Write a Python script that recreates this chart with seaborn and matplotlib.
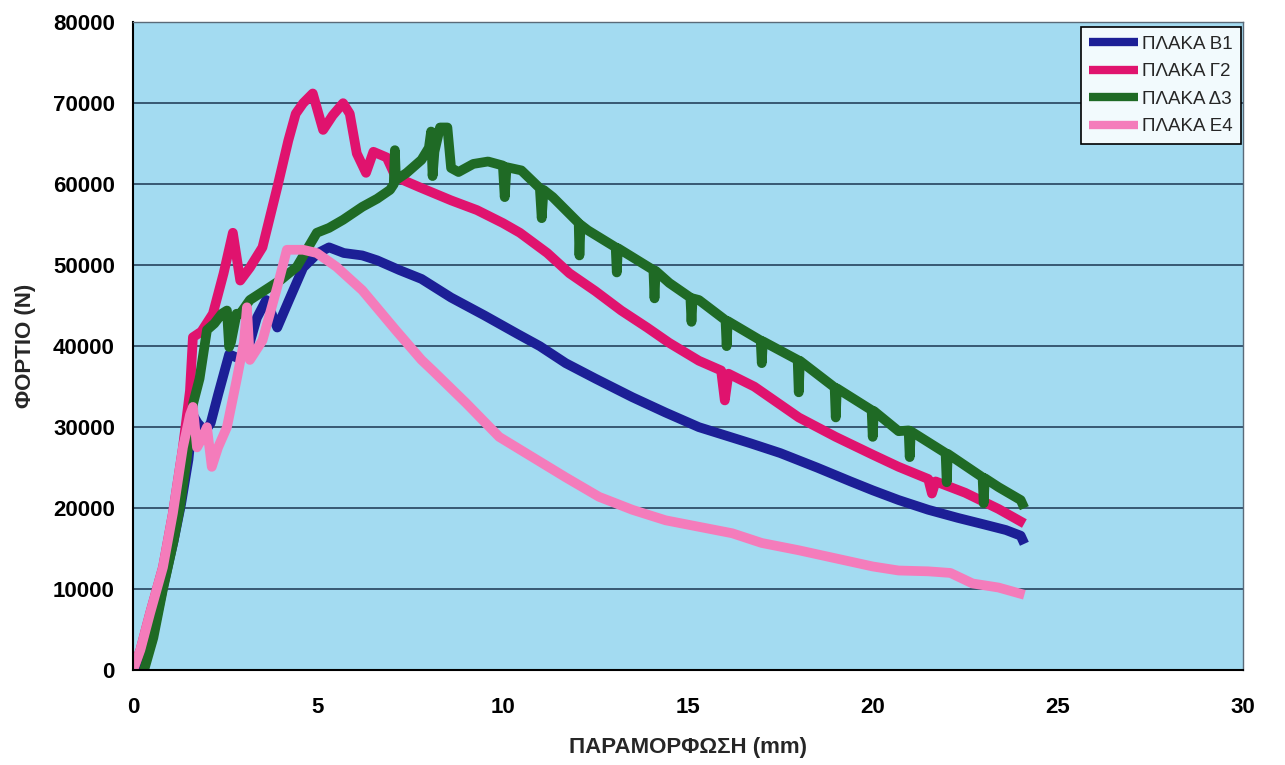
import numpy as np
import pandas as pd
import matplotlib
matplotlib.use("Agg")
import matplotlib.pyplot as plt
import seaborn as sns

# ---- data ----
series_names = ["ΠΛΑΚΑ B1", "ΠΛΑΚΑ Γ2", "ΠΛΑΚΑ Δ3", "ΠΛΑΚΑ E4"]

b1_x = [0.25, 0.5, 0.8, 1.1, 1.3, 1.5, 1.62, 1.75, 1.95, 2.1, 2.3, 2.6, 2.85, 3.1, 3.35, 3.6, 3.75, 3.9, 4.2, 4.6,
        5.0, 5.3, 5.7, 6.2, 6.6, 7.2, 7.8, 8.6, 9.5, 10.4, 11.0, 11.7, 12.5, 13.5, 14.4, 15.3, 16.0, 16.7,
        17.5, 18.5, 19.4, 20.0, 20.7, 21.5, 22.3, 23.0, 23.6, 24.0, 24.1]
b1_y = [0, 3500, 10000, 16000, 20500, 26000, 31500, 30500, 29500, 30500, 34000, 39000, 38500, 39500, 43500, 45700, 44000,
        42300, 45500, 49700, 51500, 52200, 51500, 51200, 50600, 49400, 48300, 46000, 43800, 41500, 40000, 37900, 36000,
        33700, 31800, 30000, 29000, 28000, 26800, 25000, 23300, 22200, 21000, 19800, 18800, 18000, 17300, 16600, 15600]

g2_x = [0.0, 0.2, 0.46, 0.81, 1.08, 1.35, 1.54, 1.62, 1.85, 2.16, 2.45, 2.7, 2.9, 3.16, 3.5, 3.9, 4.2, 4.4, 4.6,
        4.86, 5.14, 5.4, 5.68, 5.86, 6.05, 6.3, 6.5, 6.86, 7.1, 7.76, 8.6, 9.3, 10.0, 10.46, 11.2, 11.8, 12.5, 13.2,
        13.9, 14.5, 15.3, 15.9, 16.0, 16.1, 16.8, 18.0, 19.0, 20.0, 20.7, 21.5, 21.6, 21.7, 22.5, 23.4, 24.1]
g2_y = [0, 2500, 7000, 12700, 19400, 27500, 34500, 41100, 41800, 44000, 49000, 54000, 48100, 49700, 52200, 59600,
        65400, 68700, 70000, 71200, 66700, 68500, 70000, 68700, 63800, 61400, 64000, 63300, 60900, 59600, 58000,
        56800, 55200, 54000, 51500, 49000, 46800, 44400, 42300, 40400, 38200, 37000, 33300, 36600, 35000, 31200,
        28800, 26600, 25100, 23600, 21800, 23300, 21900, 19900, 18100]

d3_x = [0.3, 0.55, 0.81, 1.1, 1.27, 1.45, 1.63, 1.8, 2.0, 2.2, 2.4, 2.54, 2.6, 2.65, 2.8, 2.9, 3.16, 3.7, 4.0, 4.43,
        4.97, 5.3, 5.68, 6.2, 6.6, 6.95, 7.05, 7.08, 7.11, 7.4, 7.8, 8.0, 8.06, 8.1, 8.15, 8.3, 8.5, 8.6, 8.8, 9.2,
        9.6, 10.0, 10.05, 10.1, 10.5, 11.0, 11.05, 11.1, 11.35, 12.05, 12.07, 12.1, 12.3, 13.05, 13.08, 13.11,
        14.07, 14.1, 14.13, 14.5, 15.07, 15.1, 15.13, 15.3, 16.02, 16.05, 16.08, 16.97, 17.0, 17.03, 17.97, 18.0,
        18.03, 18.97, 19.0, 19.03, 19.97, 20.0, 20.03, 20.7, 20.97, 21.0, 21.03, 21.97, 22.0, 22.03, 22.97, 23.0,
        23.03, 23.4, 24.0, 24.1]
d3_y = [0, 4000, 10000, 16000, 20100, 26000, 33000, 36000, 42000, 42800, 44000, 44400, 39900, 40500, 44000, 44000,
        45700, 47300, 48200, 49800, 54000, 54600, 55600, 57200, 58200, 59300, 60000, 64200, 60500, 61400, 63000,
        64500, 66500, 61000, 64000, 67000, 67000, 62000, 61500, 62500, 62800, 62300, 58400, 62100, 61700, 59500,
        55800, 59300, 58400, 55200, 51200, 55000, 54300, 52200, 49100, 52100, 49400, 45900, 49300, 47800, 46000,
        43000, 45900, 45700, 43200, 40000, 43100, 40700, 37900, 40600, 38300, 34300, 38200, 34900, 31200, 34800,
        32100, 28800, 32000, 29500, 29600, 26300, 29500, 26800, 23200, 26700, 23800, 20600, 23700, 22600, 21000,
        20000]

e4_x = [0.0, 0.2, 0.46, 0.81, 1.08, 1.35, 1.54, 1.62, 1.73, 1.85, 2.0, 2.13, 2.3, 2.54, 2.8, 3.0, 3.08, 3.16, 3.5,
        3.9, 4.16, 4.6, 4.97, 5.5, 6.2, 7.1, 7.8, 8.1, 9.0, 9.9, 10.8, 11.7, 12.6, 13.5, 14.4, 15.3, 16.2, 17.0,
        18.0, 19.0, 20.0, 20.7, 21.5, 22.1, 22.7, 23.4, 24.1]
e4_y = [0, 2500, 7000, 12700, 19400, 27500, 31500, 32500, 27500, 28500, 30000, 25100, 27500, 30000, 35800, 40500,
        44800, 38300, 40700, 47300, 51900, 51900, 51500, 49800, 46900, 42000, 38300, 37000, 33000, 28800, 26300,
        23800, 21400, 19800, 18500, 17700, 16900, 15700, 14800, 13800, 12800, 12300, 12200, 12000, 10700, 10200, 9300]

x_ticks = [0, 5, 10, 15, 20, 25, 30]
y_ticks = [0, 10000, 20000, 30000, 40000, 50000, 60000, 70000, 80000]
x_label = "ΠΑΡΑΜΟΡΦΩΣΗ (mm)"
y_label = "ΦΟΡΤΙΟ (N)"

colors = ["#1c1f96", "#e0136e", "#1f6a25", "#f47cbb"]

# ---- build long-form data ----
frames = []
for name, xs, ys in zip(series_names, [b1_x, g2_x, d3_x, e4_x], [b1_y, g2_y, d3_y, e4_y]):
    frames.append(pd.DataFrame({"x": xs, "y": ys, "series": name}))
df = pd.concat(frames, ignore_index=True)

sns.set_theme(style="white")
plt.rcParams["font.family"] = ["Liberation Sans", "DejaVu Sans"]

fig = plt.figure(figsize=(12.85, 7.65), dpi=100)
fig.patch.set_facecolor("white")
ax = fig.add_axes([0.1035, 0.124, 0.8635, 0.847])
ax.set_facecolor("#a3dbf1")

sns.lineplot(data=df, x="x", y="y", hue="series", hue_order=series_names,
             palette=colors, sort=False, estimator=None,
             linewidth=7, ax=ax, legend=True, solid_capstyle="butt")

ax.set_xlim(0, 30)
ax.set_ylim(0, 80000)
ax.set_xticks(x_ticks)
ax.set_yticks(y_ticks)
ax.set_xticklabels([str(v) for v in x_ticks], fontsize=16, fontweight="bold")
ax.set_yticklabels([str(v) for v in y_ticks], fontsize=16, fontweight="bold")
ax.yaxis.grid(True, color="#1b3550", linewidth=1.1)
ax.xaxis.grid(False)
ax.tick_params(axis="both", direction="out", length=5, width=1, color="black", pad=8, labelcolor="black")
ax.tick_params(axis="x", pad=14)

for side in ["left", "bottom"]:
    ax.spines[side].set_color("black")
    ax.spines[side].set_linewidth(1.5)
for side in ["top", "right"]:
    ax.spines[side].set_color("#5a6a78")
    ax.spines[side].set_linewidth(1.0)

ax.set_xlabel(x_label, fontsize=16, fontweight="bold", labelpad=14)
ax.set_ylabel(y_label, fontsize=16, fontweight="bold", labelpad=12)

handles, labels = ax.get_legend_handles_labels()
for h in handles:
    h.set_linewidth(6)
leg = ax.legend(handles, labels, loc="upper right", bbox_to_anchor=(0.9985, 0.992),
                fontsize=13.5, frameon=True, fancybox=False, framealpha=1,
                handlelength=2.6, handletextpad=0.2, borderpad=0.45, labelspacing=0.55,
                borderaxespad=0)
leg.get_frame().set_facecolor("#f2fafd")
leg.get_frame().set_edgecolor("black")
leg.get_frame().set_linewidth(1.2)

fig.savefig("out.png", dpi=100, facecolor="white")
